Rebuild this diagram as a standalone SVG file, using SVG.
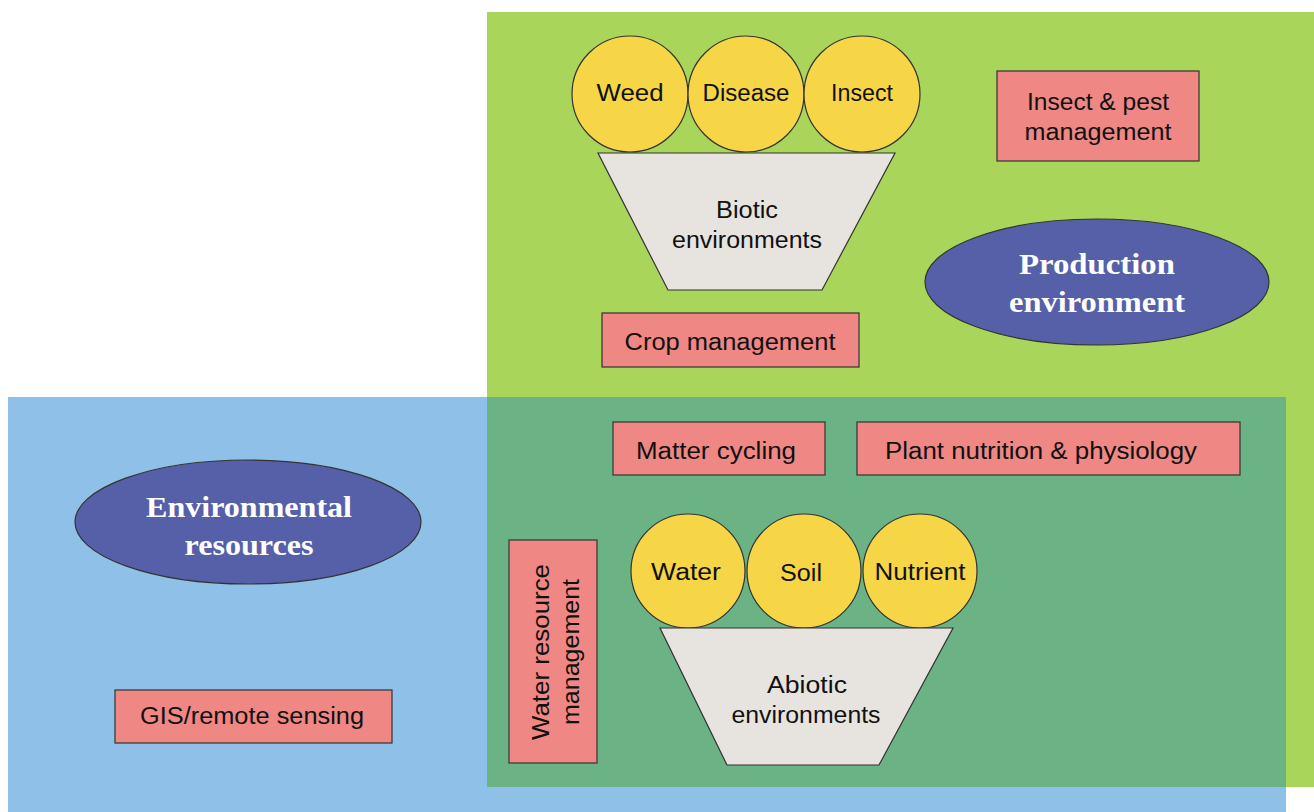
<svg xmlns="http://www.w3.org/2000/svg" width="1314" height="812" viewBox="0 0 1314 812">
<style>
.lbl{font-family:"Liberation Sans","DejaVu Sans",sans-serif;font-size:23px;fill:#111;text-anchor:middle}
.big{font-family:"Liberation Serif","DejaVu Serif",serif;font-weight:bold;font-size:29px;fill:#fff;text-anchor:middle}
.box{fill:#ef8784;stroke:#333;stroke-width:1.2}
.ball{fill:#f6d547;stroke:#333;stroke-width:1.2}
.trap{fill:#e7e3df;stroke:#333;stroke-width:1.2}
.ell{fill:#5660a9;stroke:#333;stroke-width:1.2}
</style>
<rect width="1314" height="812" fill="#fff"/>
<g id="regions">
<rect id="production-area" x="487" y="12" width="827" height="775" fill="#a9d55b"/>
<rect id="resources-area" x="8" y="397" width="1278" height="415" fill="#8fc0e7"/>
<rect id="overlap-area" x="487" y="397" width="799" height="390" fill="#6bb384"/>
</g>
<g id="connectors"/>
<g id="weed"><circle class="ball" cx="630" cy="94" r="58"/><text class="lbl" x="630" y="101" textLength="67" lengthAdjust="spacingAndGlyphs">Weed</text></g>
<g id="disease"><circle class="ball" cx="746" cy="94" r="58"/><text class="lbl" x="746" y="101" textLength="87" lengthAdjust="spacingAndGlyphs">Disease</text></g>
<g id="insect"><circle class="ball" cx="862" cy="94" r="58"/><text class="lbl" x="862" y="101" textLength="62" lengthAdjust="spacingAndGlyphs">Insect</text></g>
<g id="biotic"><polygon class="trap" points="598,153 895,153 822,290 668,290"/>
<text class="lbl" x="747" y="218" textLength="62" lengthAdjust="spacingAndGlyphs">Biotic</text>
<text class="lbl" x="747" y="248" textLength="150" lengthAdjust="spacingAndGlyphs">environments</text></g>
<g id="crop-management"><rect class="box" x="602" y="313" width="257" height="54"/><text class="lbl" x="730" y="350" textLength="211" lengthAdjust="spacingAndGlyphs">Crop management</text></g>
<g id="insect-pest"><rect class="box" x="997" y="71" width="202" height="90"/>
<text class="lbl" x="1098" y="110" textLength="142" lengthAdjust="spacingAndGlyphs">Insect &amp; pest</text>
<text class="lbl" x="1098" y="140" textLength="147" lengthAdjust="spacingAndGlyphs">management</text></g>
<g id="production-environment"><ellipse class="ell" cx="1097" cy="282" rx="172" ry="63"/>
<text class="big" x="1097" y="274" textLength="156" lengthAdjust="spacingAndGlyphs">Production</text>
<text class="big" x="1097" y="312" textLength="176" lengthAdjust="spacingAndGlyphs">environment</text></g>
<g id="environmental-resources"><ellipse class="ell" cx="248" cy="522" rx="173" ry="62"/>
<text class="big" x="249" y="517" textLength="206" lengthAdjust="spacingAndGlyphs">Environmental</text>
<text class="big" x="249" y="555" textLength="129" lengthAdjust="spacingAndGlyphs">resources</text></g>
<g id="gis"><rect class="box" x="115" y="690" width="277" height="53"/><text class="lbl" x="252" y="724" textLength="224" lengthAdjust="spacingAndGlyphs">GIS/remote sensing</text></g>
<g id="matter-cycling"><rect class="box" x="613" y="422" width="212" height="53"/><text class="lbl" x="716" y="459" textLength="160" lengthAdjust="spacingAndGlyphs">Matter cycling</text></g>
<g id="plant-nutrition"><rect class="box" x="857" y="422" width="383" height="53"/><text class="lbl" x="1041" y="459" textLength="312" lengthAdjust="spacingAndGlyphs">Plant nutrition &amp; physiology</text></g>
<g id="water-resource"><rect class="box" x="509" y="540" width="88" height="223"/>
<text class="lbl" transform="translate(549,652) rotate(-90)" x="0" y="0" textLength="176" lengthAdjust="spacingAndGlyphs">Water resource</text>
<text class="lbl" transform="translate(579,652) rotate(-90)" x="0" y="0" textLength="146" lengthAdjust="spacingAndGlyphs">management</text></g>
<g id="water"><circle class="ball" cx="688" cy="571" r="57"/><text class="lbl" x="686" y="580" textLength="70" lengthAdjust="spacingAndGlyphs">Water</text></g>
<g id="soil"><circle class="ball" cx="804" cy="571" r="57"/><text class="lbl" x="801" y="581" textLength="42" lengthAdjust="spacingAndGlyphs">Soil</text></g>
<g id="nutrient"><circle class="ball" cx="920" cy="571" r="57"/><text class="lbl" x="920" y="580" textLength="91" lengthAdjust="spacingAndGlyphs">Nutrient</text></g>
<g id="abiotic"><polygon class="trap" points="660,628 953,628 879,765 727,765"/>
<text class="lbl" x="807" y="693" textLength="80" lengthAdjust="spacingAndGlyphs">Abiotic</text>
<text class="lbl" x="806" y="723" textLength="149" lengthAdjust="spacingAndGlyphs">environments</text></g>
</svg>
